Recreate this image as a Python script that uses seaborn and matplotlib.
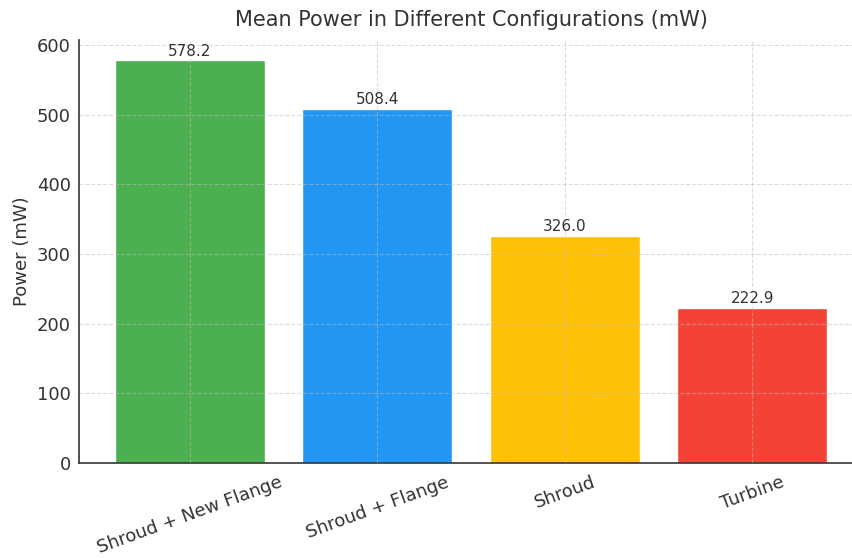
import numpy as np
import pandas as pd
import matplotlib
matplotlib.use("Agg")
import matplotlib.pyplot as plt
import seaborn as sns

# Chart data
configs = ["Shroud + New Flange", "Shroud + Flange", "Shroud", "Turbine"]
power = [578.2, 508.4, 326.0, 222.9]
bar_colors = ["#4CAF50", "#2196F3", "#FFC107", "#F44336"]

df = pd.DataFrame({"config": configs, "power": power})

sns.set_style("white")
plt.rcParams["font.family"] = ["DejaVu Sans"]
text_col = "#333333"

fig = plt.figure(figsize=(8.52, 5.58), dpi=100)
ax = fig.add_axes([79 / 852, 1 - 463 / 558, 784 / 852, 423 / 558])

sns.barplot(data=df, x="config", y="power", hue="config", palette=bar_colors,
            width=0.8, saturation=1, legend=False, ax=ax)

# Value labels above bars
for i, v in enumerate(power):
    ax.text(i, v + 2, f"{v:.1f}", ha="center", va="bottom", fontsize=11, color=text_col)

ax.set_xlim(-0.59, 3.59)
ax.set_ylim(0, 607.1)
ax.set_yticks([0, 100, 200, 300, 400, 500, 600])

ax.set_title("Mean Power in Different Configurations (mW)", fontsize=15, color=text_col, pad=10)
ax.set_ylabel("Power (mW)", fontsize=13, color=text_col)
ax.set_xlabel("")
ax.tick_params(axis="y", labelsize=13, colors=text_col, length=4, width=1, pad=2)
ax.tick_params(axis="x", labelsize=13, colors=text_col, length=4, width=1, rotation=20)
for lab in ax.get_xticklabels():
    lab.set_ha("center")

ax.set_axisbelow(False)
ax.grid(True, linestyle="--", color="#bbbbbb", alpha=0.5, linewidth=0.8)

sns.despine(ax=ax, top=True, right=True)
for s in ["left", "bottom"]:
    ax.spines[s].set_color(text_col)
    ax.spines[s].set_linewidth(1.2)

fig.savefig("out.png", dpi=100)
